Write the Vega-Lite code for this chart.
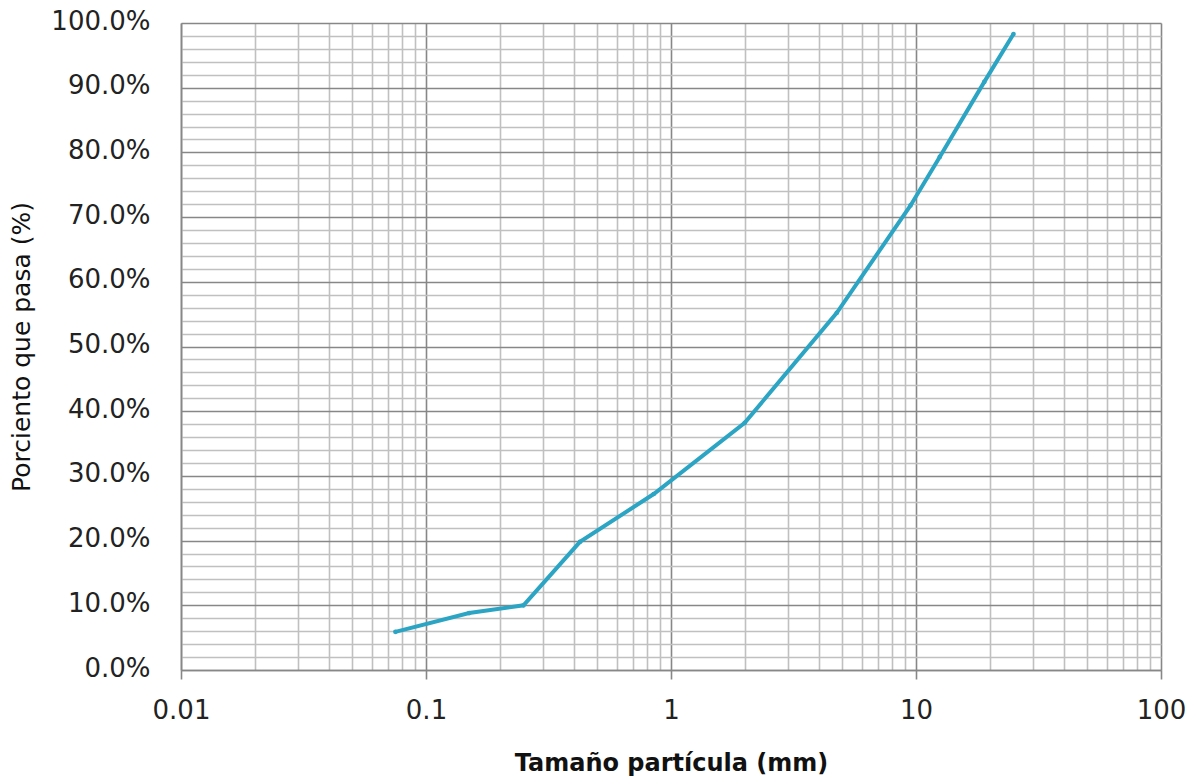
{
  "$schema": "https://vega.github.io/schema/vega-lite/v6.json",
  "width": 980,
  "height": 647,
  "autosize": "none",
  "padding": {"left": 181, "top": 23, "right": 37, "bottom": 108},
  "background": "white",
  "config": {"view": {"stroke": null}},
  "data": {
    "values": [
      {"tamano": 0.075, "pasa": 5.9},
      {"tamano": 0.15, "pasa": 8.8},
      {"tamano": 0.25, "pasa": 10.0},
      {"tamano": 0.425, "pasa": 19.8},
      {"tamano": 0.85, "pasa": 27.2},
      {"tamano": 2.0, "pasa": 38.2},
      {"tamano": 4.75, "pasa": 55.2},
      {"tamano": 9.5, "pasa": 71.8},
      {"tamano": 12.5, "pasa": 79.3},
      {"tamano": 19, "pasa": 90.9},
      {"tamano": 25, "pasa": 98.3}
    ]
  },
  "mark": {"type": "line", "color": "#2ba5c3", "strokeWidth": 4, "point": {"filled": true, "size": 22, "color": "#2ba5c3"}},
  "encoding": {
    "x": {
      "field": "tamano",
      "type": "quantitative",
      "scale": {"type": "log", "domain": [0.01, 100], "nice": false},
      "axis": {
        "title": "Tamaño partícula (mm)",
        "titleFont": "DejaVu Sans",
        "titleFontSize": 24,
        "titleFontWeight": "bold",
        "titleColor": "#111",
        "titlePadding": 28,
        "values": [0.01,0.02,0.03,0.04,0.05,0.06,0.07,0.08,0.09,0.1,0.2,0.3,0.4,0.5,0.6,0.7,0.8,0.9,1,2,3,4,5,6,7,8,9,10,20,30,40,50,60,70,80,90,100],
        "labelExpr": "indexof([0.01,0.1,1,10,100], datum.value) >= 0 ? format(datum.value, '~g') : ''",
        "labelFont": "DejaVu Sans",
        "labelFontSize": 26,
        "labelColor": "#222",
        "labelFlush": false,
        "labelBound": false,
        "labelOverlap": false,
        "labelPadding": 18,
        "grid": true,
        "gridWidth": 1.6,
        "gridColor": {"condition": {"test": "indexof([0.01,0.1,1,10,100], datum.value) >= 0", "value": "#878787"}, "value": "#c0c0c0"},
        "ticks": true,
        "tickSize": 9,
        "tickWidth": 1.6,
        "tickColor": "#878787",
        "tickOpacity": {"condition": {"test": "indexof([0.01,0.1,1,10,100], datum.value) >= 0", "value": 1}, "value": 0},
        "domainColor": "#878787",
        "domainWidth": 1.6
      }
    },
    "y": {
      "field": "pasa",
      "type": "quantitative",
      "scale": {"domain": [0, 100], "nice": false},
      "axis": {
        "title": "Porciento que pasa (%)",
        "titleFont": "DejaVu Sans",
        "titleFontSize": 25,
        "titleFontWeight": "normal",
        "titleColor": "#111",
        "titlePadding": 16,
        "values": [0,2,4,6,8,10,12,14,16,18,20,22,24,26,28,30,32,34,36,38,40,42,44,46,48,50,52,54,56,58,60,62,64,66,68,70,72,74,76,78,80,82,84,86,88,90,92,94,96,98,100],
        "labelExpr": "datum.value % 10 === 0 ? format(datum.value, '.1f') + '%' : ''",
        "labelFont": "DejaVu Sans",
        "labelFontSize": 26,
        "labelColor": "#222",
        "labelFlush": false,
        "labelBound": false,
        "labelOverlap": false,
        "labelPadding": 31,
        "labelOffset": -2,
        "ticks": false,
        "tickSize": 0,
        "grid": true,
        "gridWidth": 1.6,
        "gridColor": {"condition": {"test": "datum.value % 10 === 0", "value": "#878787"}, "value": "#c0c0c0"},
        "domainColor": "#878787",
        "domainWidth": 1.6
      }
    }
  }
}
